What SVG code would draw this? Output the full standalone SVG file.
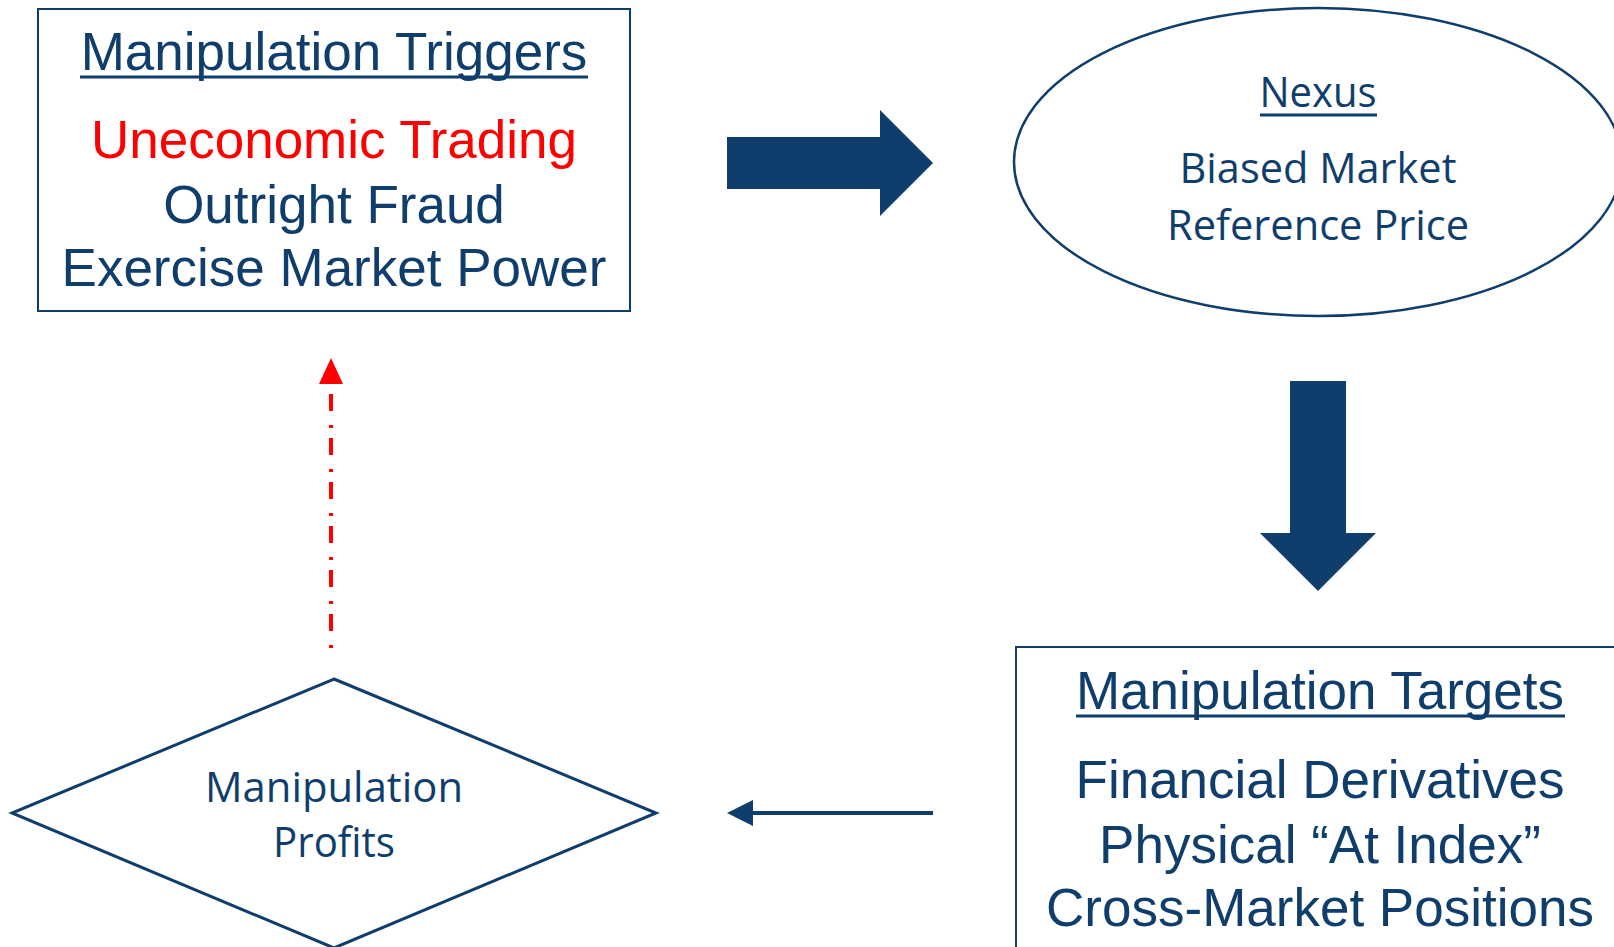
<svg xmlns="http://www.w3.org/2000/svg" width="1614" height="947" viewBox="0 0 1614 947">
  <style>
    .box { fill: #ffffff; stroke: #0F3E6D; stroke-width: 2; }
    .arial { font-family: "Liberation Sans", Arial, sans-serif; font-size: 53px; fill: #0F3E6D; text-anchor: middle; }
    .cal { font-family: "Open Sans", "Noto Sans", sans-serif; font-size: 42px; fill: #0F3E6D; text-anchor: middle; }
    .ul { stroke: #0F3E6D; stroke-width: 3; }
    .red { fill: #FF0000; }
    .big { fill: #0F3E6D; }
  </style>
  <rect width="1614" height="947" fill="#ffffff"/>

  <g id="connectors">
    <polygon class="big" points="727,137 880,137 880,110 933,163 880,216 880,189 727,189"/>
    <polygon class="big" points="1290,381 1346,381 1346,533 1376,533 1318,591 1260,533 1290,533"/>
    <line x1="933" y1="813" x2="745" y2="813" stroke="#0F3E6D" stroke-width="4"/>
    <polygon class="big" points="727,813 753,800 753,826"/>
    <line x1="331" y1="648" x2="331" y2="382" stroke="#FF0000" stroke-width="4" stroke-dasharray="3 14 17 10"/>
    <polygon class="red" points="331,358 343,384 319,384"/>
  </g>

  <g id="triggers">
    <rect class="box" x="38" y="9" width="592" height="302"/>
    <text class="arial" x="334" y="70">Manipulation Triggers</text>
    <line class="ul" x1="80" y1="77" x2="588" y2="77"/>
    <text class="arial" x="334" y="158" style="fill:#FF0000">Uneconomic Trading</text>
    <text class="arial" x="334" y="223">Outright Fraud</text>
    <text class="arial" x="334" y="286">Exercise Market Power</text>
  </g>

  <g id="nexus">
    <ellipse cx="1318" cy="162" rx="304" ry="154" fill="#ffffff" stroke="#0F3E6D" stroke-width="2.5"/>
    <text class="cal" x="1318" y="107" textLength="117" lengthAdjust="spacingAndGlyphs">Nexus</text>
    <line class="ul" x1="1260" y1="115" x2="1377" y2="115"/>
    <text class="cal" x="1318" y="183" textLength="277" lengthAdjust="spacingAndGlyphs">Biased Market</text>
    <text class="cal" x="1318" y="240" textLength="302" lengthAdjust="spacingAndGlyphs">Reference Price</text>
  </g>

  <g id="targets">
    <rect class="box" x="1016" y="647" width="640" height="340"/>
    <text class="arial" x="1320" y="709">Manipulation Targets</text>
    <line class="ul" x1="1076" y1="716" x2="1565" y2="716"/>
    <text class="arial" x="1320" y="798">Financial Derivatives</text>
    <text class="arial" x="1320" y="863">Physical “At Index”</text>
    <text class="arial" x="1320" y="926">Cross-Market Positions</text>
  </g>

  <g id="profits">
    <polygon points="334,679 656,813 334,948 12,813" fill="#ffffff" stroke="#0F3E6D" stroke-width="3"/>
    <text class="cal" x="334" y="802" textLength="258" lengthAdjust="spacingAndGlyphs">Manipulation</text>
    <text class="cal" x="334" y="857" textLength="122" lengthAdjust="spacingAndGlyphs">Profits</text>
  </g>
</svg>
